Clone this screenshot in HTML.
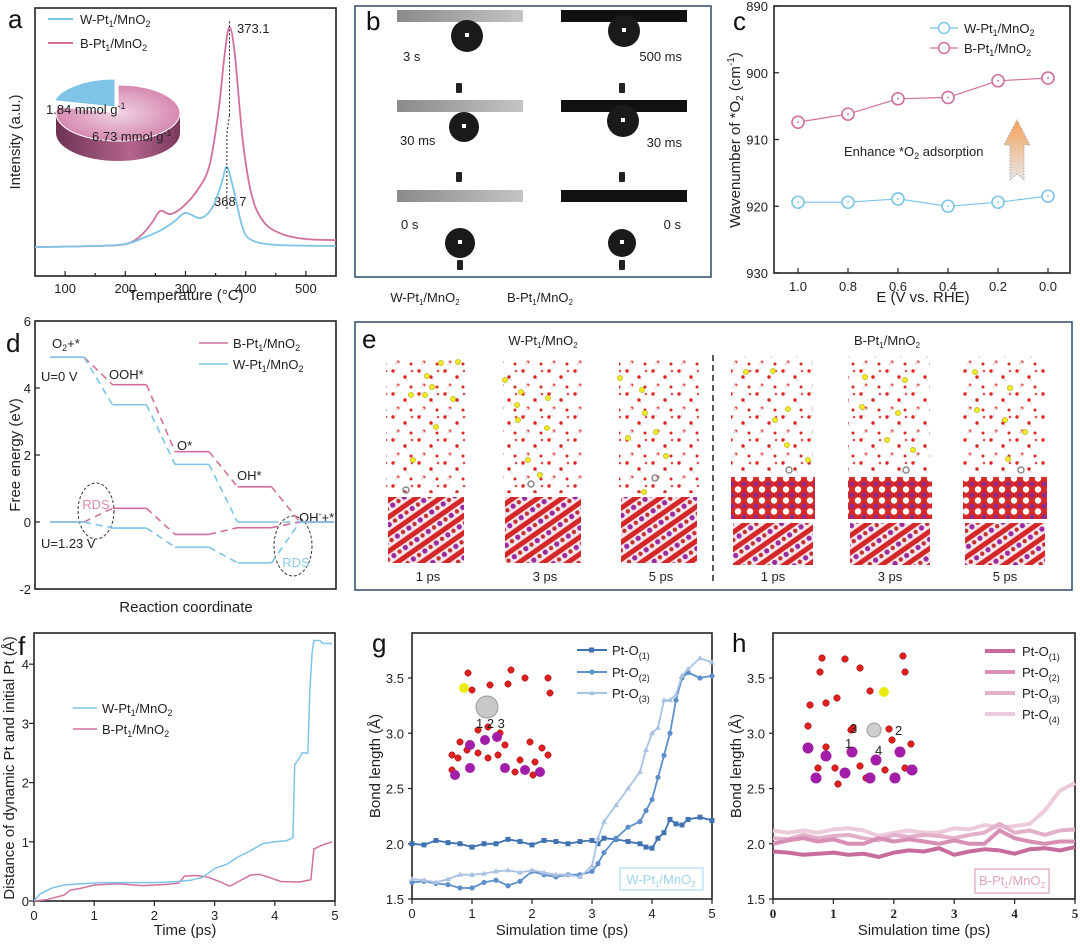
<!DOCTYPE html>
<html><head><meta charset="utf-8">
<style>
html,body{margin:0;padding:0;background:#fff;}
svg{display:block;font-family:"Liberation Sans",Arial,sans-serif;}
.tk{font-size:13px;fill:#222;}
.ti{font-size:15px;fill:#222;}
.lg{font-size:13px;fill:#222;}
.pl{font-size:26px;fill:#111;}
</style></head>
<body>
<svg id="fig" width="1080" height="945" viewBox="0 0 1080 945">
<defs>
 <linearGradient id="pieSide" x1="0" x2="1" y1="0" y2="0"><stop offset="0" stop-color="#6e3353"/><stop offset="0.6" stop-color="#b4648f"/><stop offset="1" stop-color="#7a3a5c"/></linearGradient>
 <radialGradient id="pieTop" cx="0.5" cy="0.5" r="0.6"><stop offset="0" stop-color="#f1d3e3"/><stop offset="1" stop-color="#d07aa6"/></radialGradient>
 <linearGradient id="arrowG" x1="0" x2="0" y1="0" y2="1"><stop offset="0" stop-color="#f5a25c"/><stop offset="1" stop-color="#e6e6e6"/></linearGradient>
 <linearGradient id="barW" x1="0" x2="1"><stop offset="0" stop-color="#8a8a8a"/><stop offset="1" stop-color="#c4c4c4"/></linearGradient>
 <pattern id="water" width="26" height="23" patternUnits="userSpaceOnUse">
  <line x1="2" y1="3" x2="7" y2="1" stroke="#ddd" stroke-width="1.2"/>
  <circle cx="3" cy="3" r="1.7" fill="#e0261e"/>
  <line x1="15" y1="9" x2="18" y2="13" stroke="#ddd" stroke-width="1.2"/>
  <circle cx="15" cy="9" r="1.7" fill="#d8221a"/>
  <circle cx="8" cy="17" r="1.5" fill="#e8443a"/>
  <line x1="8" y1="17" x2="5" y2="20" stroke="#ddd" stroke-width="1.2"/>
  <circle cx="22" cy="3" r="1.3" fill="#e05050"/>
  <circle cx="21" cy="19" r="1.5" fill="#d42a20"/>
 </pattern>
 <pattern id="slabW" width="14" height="14" patternUnits="userSpaceOnUse" patternTransform="rotate(-35)">
  <rect width="14" height="14" fill="#f4e6ea"/>
  <rect x="0" y="0" width="14" height="5" fill="#d42828"/>
  <circle cx="4" cy="9" r="2.6" fill="#9a2a9e"/>
  <circle cx="11" cy="9" r="2.2" fill="#c03030"/>
 </pattern>
 <pattern id="slabB" width="12" height="11" patternUnits="userSpaceOnUse">
  <rect width="12" height="11" fill="#d42a2a"/>
  <circle cx="6" cy="5.5" r="3.2" fill="#fff"/>
  <circle cx="0" cy="0" r="2.4" fill="#8e2a98"/>
  <circle cx="12" cy="0" r="2.4" fill="#8e2a98"/>
  <circle cx="0" cy="11" r="2.4" fill="#8e2a98"/>
  <circle cx="12" cy="11" r="2.4" fill="#8e2a98"/>
 </pattern>
</defs>

<text class="pl" x="8" y="28">a</text>
<text class="pl" x="366" y="30">b</text>
<text class="pl" x="733" y="30" font-size="24">c</text>
<text class="pl" x="6" y="352">d</text>
<text class="pl" x="362" y="348">e</text>
<text class="pl" x="18" y="655">f</text>
<text class="pl" x="372" y="652">g</text>
<text class="pl" x="732" y="652">h</text>

<g id="pa">
 <text class="ti" transform="translate(20,142) rotate(-90)" text-anchor="middle">Intensity (a.u.)</text>
 <text class="ti" x="186" y="300" text-anchor="middle">Temperature (°C)</text>
 <line x1="48" y1="19" x2="73" y2="19" stroke="#7cc4e8" stroke-width="2"/>
 <text class="lg" x="80" y="24">W-Pt<tspan font-size="9" dy="3">1</tspan><tspan dy="-3">/MnO</tspan><tspan font-size="9" dy="3">2</tspan></text>
 <line x1="48" y1="43" x2="73" y2="43" stroke="#d1709f" stroke-width="2"/>
 <text class="lg" x="80" y="48">B-Pt<tspan font-size="9" dy="3">1</tspan><tspan dy="-3">/MnO</tspan><tspan font-size="9" dy="3">2</tspan></text>
 <text class="lg" x="237" y="33">373.1</text>
 <text class="lg" x="214" y="206">368.7</text>
</g>

<g id="pb">
 <rect x="355" y="6" width="356" height="271" fill="none" stroke="#2d4a6a" stroke-width="1.5"/>
 <text class="lg" x="403" y="61">3 s</text>
 <text class="lg" x="682" y="61" text-anchor="end">500 ms</text>
 <text class="lg" x="400" y="145">30 ms</text>
 <text class="lg" x="682" y="147" text-anchor="end">30 ms</text>
 <text class="lg" x="401" y="229">0 s</text>
 <text class="lg" x="681" y="229" text-anchor="end">0 s</text>
 <text class="lg" x="425" y="302" text-anchor="middle" font-size="12">W-Pt<tspan font-size="8" dy="3">1</tspan><tspan dy="-3">/MnO</tspan><tspan font-size="8" dy="3">2</tspan></text>
 <text class="lg" x="540" y="302" text-anchor="middle" font-size="12">B-Pt<tspan font-size="8" dy="3">1</tspan><tspan dy="-3">/MnO</tspan><tspan font-size="8" dy="3">2</tspan></text>
</g>

<g id="pc">
 <text class="ti" transform="translate(740,140) rotate(-90)" text-anchor="middle">Wavenumber of *O<tspan font-size="10" dy="3">2</tspan><tspan dy="-3"> (cm</tspan><tspan font-size="10" dy="-6">-1</tspan><tspan dy="6">)</tspan></text>
 <text class="ti" x="923" y="302" text-anchor="middle">E (V vs. RHE)</text>
 <text class="lg" x="844" y="156">Enhance *O<tspan font-size="9" dy="3">2</tspan><tspan dy="-3"> adsorption</tspan></text>
 <path d="M1010,180 L1010,145 L1004,145 L1017,120 L1030,145 L1024,145 L1024,180 L1017,174 Z" fill="url(#arrowG)" stroke="#999" stroke-dasharray="1.5 1.5" stroke-width="0.8"/>
 <line x1="930" y1="28" x2="958" y2="28" stroke="#7cc4e8" stroke-width="1.2"/>
 <circle cx="944" cy="28" r="5.5" fill="#fff" stroke="#7cc4e8" stroke-width="1.5"/>
 <text class="lg" x="964" y="33">W-Pt<tspan font-size="9" dy="3">1</tspan><tspan dy="-3">/MnO</tspan><tspan font-size="9" dy="3">2</tspan></text>
 <line x1="930" y1="48" x2="958" y2="48" stroke="#d1709f" stroke-width="1.2"/>
 <circle cx="944" cy="48" r="5.5" fill="#fff" stroke="#d1709f" stroke-width="1.5"/>
 <text class="lg" x="964" y="53">B-Pt<tspan font-size="9" dy="3">1</tspan><tspan dy="-3">/MnO</tspan><tspan font-size="9" dy="3">2</tspan></text>
</g>

<g id="pd">
 <text class="ti" transform="translate(20,455) rotate(-90)" text-anchor="middle">Free energy (eV)</text>
 <text class="ti" x="186" y="612" text-anchor="middle">Reaction coordinate</text>
 <text class="lg" x="52" y="348">O<tspan font-size="9" dy="3">2</tspan><tspan dy="-3">+*</tspan></text>
 <text class="lg" x="41" y="381">U=0 V</text>
 <text class="lg" x="109" y="379">OOH*</text>
 <text class="lg" x="177" y="450">O*</text>
 <text class="lg" x="237" y="480">OH*</text>
 <text class="lg" x="299" y="522">OH<tspan font-size="9" dy="-5">-</tspan><tspan dy="5">+*</tspan></text>
 <text class="lg" x="41" y="548">U=1.23 V</text>
 <ellipse cx="96" cy="511" rx="18" ry="28" fill="none" stroke="#333" stroke-dasharray="3 2"/>
 <text class="lg" x="96" y="509" text-anchor="middle" style="fill:#e08ab4">RDS</text>
 <ellipse cx="293" cy="546" rx="19" ry="30" fill="none" stroke="#333" stroke-dasharray="3 2"/>
 <text class="lg" x="296" y="567" text-anchor="middle" style="fill:#8cc8ea">RDS</text>
 <line x1="199" y1="343" x2="228" y2="343" stroke="#d1709f" stroke-width="1.5"/>
 <text class="lg" x="233" y="348">B-Pt<tspan font-size="9" dy="3">1</tspan><tspan dy="-3">/MnO</tspan><tspan font-size="9" dy="3">2</tspan></text>
 <line x1="199" y1="364" x2="228" y2="364" stroke="#7cc4e8" stroke-width="1.5"/>
 <text class="lg" x="233" y="369">W-Pt<tspan font-size="9" dy="3">1</tspan><tspan dy="-3">/MnO</tspan><tspan font-size="9" dy="3">2</tspan></text>
</g>

<g id="pe">
 <rect x="355" y="322" width="717" height="268" fill="none" stroke="#2d4a6a" stroke-width="1.5"/>
 <text class="lg" x="543" y="345" text-anchor="middle" font-size="12">W-Pt<tspan font-size="8" dy="3">1</tspan><tspan dy="-3">/MnO</tspan><tspan font-size="8" dy="3">2</tspan></text>
 <text class="lg" x="887" y="345" text-anchor="middle" font-size="12">B-Pt<tspan font-size="8" dy="3">1</tspan><tspan dy="-3">/MnO</tspan><tspan font-size="8" dy="3">2</tspan></text>
 <line x1="713" y1="355" x2="713" y2="585" stroke="#222" stroke-width="1.5" stroke-dasharray="6 4"/>
</g>

<g id="pf">
 <text class="ti" transform="translate(14,768) rotate(-90)" text-anchor="middle" font-size="14">Distance of dynamic Pt and initial  Pt (Å)</text>
 <text class="ti" x="185" y="935" text-anchor="middle">Time (ps)</text>
 <line x1="73" y1="708" x2="97" y2="708" stroke="#7cc4e8" stroke-width="1.5"/>
 <text class="lg" x="102" y="713">W-Pt<tspan font-size="9" dy="3">1</tspan><tspan dy="-3">/MnO</tspan><tspan font-size="9" dy="3">2</tspan></text>
 <line x1="73" y1="729" x2="97" y2="729" stroke="#d1709f" stroke-width="1.5"/>
 <text class="lg" x="102" y="734">B-Pt<tspan font-size="9" dy="3">1</tspan><tspan dy="-3">/MnO</tspan><tspan font-size="9" dy="3">2</tspan></text>
</g>

<g id="pg">
 <text class="ti" transform="translate(380,766) rotate(-90)" text-anchor="middle">Bond length (Å)</text>
 <text class="ti" x="562" y="935" text-anchor="middle">Simulation time (ps)</text>
 <rect x="620" y="868" width="83" height="22" fill="#fff" stroke="#bfe3f5" stroke-width="1.5"/>
 <text class="lg" x="661" y="884" text-anchor="middle" font-size="12" style="fill:#9fd4f0">W-Pt<tspan font-size="8" dy="3">1</tspan><tspan dy="-3">/MnO</tspan><tspan font-size="8" dy="3">2</tspan></text>
</g>

<g id="ph">
 <text class="ti" transform="translate(741,766) rotate(-90)" text-anchor="middle">Bond length (Å)</text>
 <text class="ti" x="924" y="935" text-anchor="middle">Simulation time (ps)</text>
 <rect x="975" y="869" width="74" height="24" fill="#fff" stroke="#e5b3cd" stroke-width="1.5"/>
 <text class="lg" x="1012" y="885" text-anchor="middle" font-size="12" style="fill:#e2a4c4">B-Pt<tspan font-size="8" dy="3">1</tspan><tspan dy="-3">/MnO</tspan><tspan font-size="8" dy="3">2</tspan></text>
</g>
</svg>

<script>
// panel a (TPD)
const aTemps = [50,150,200,230,260,280,300,325,345,360,368.7,380,395,410,450,550];
const aW = [10.8,11.2,11.9,14.2,17.2,20.1,23.5,21.6,25.7,34.7,40.7,32.1,17.9,13.4,11.6,11.2];
const bTemps = [50,150,200,225,245,258,275,295,320,340,355,365,373.1,382,395,410,430,460,500,550];
const aB = [10.8,11.2,11.9,14.9,20.1,24.3,23.1,25.7,32.1,41.4,61.9,82.5,92.9,82.5,50.7,30.2,20.1,15.7,13.8,13.4];
const aXTicks = [100,200,300,400,500];
const pieVals = [1.84,6.73];
// panel c
const cE = [1.0,0.8,0.6,0.4,0.2,0.0];
const cW = [919.4,919.4,918.9,920.0,919.4,918.5];
const cB = [907.4,906.2,903.9,903.7,901.2,900.8];
const cYTicks = [890,900,910,920,930];
const cXTicks = [1.0,0.8,0.6,0.4,0.2,0.0];
// panel d
const dB0 = [4.92,4.10,2.10,1.05,0];
const dW0 = [4.92,3.50,1.72,0.0,0];
const dB1 = [0,0.41,-0.37,-0.17,0];
const dW1 = [0,-0.18,-0.75,-1.22,0];
const dYTicks = [6,4,2,0,-2];
// panel f
const fTW = [0,0.1,0.3,0.5,0.8,1.1,1.5,2,2.4,2.6,2.8,3.0,3.2,3.4,3.6,3.8,4.0,4.2,4.3,4.33,4.4,4.45,4.55,4.58,4.62,4.65,4.75,4.8,4.95];
const fW  = [0,0.12,0.22,0.27,0.29,0.31,0.31,0.31,0.33,0.35,0.40,0.55,0.62,0.75,0.85,0.97,1.0,1.02,1.07,2.3,2.4,2.5,2.5,3.5,4.2,4.4,4.4,4.35,4.35];
const fTB = [0,0.2,0.5,0.6,0.8,1.0,1.4,1.8,2.2,2.4,2.5,2.7,2.9,3.1,3.25,3.4,3.6,3.75,3.9,4.1,4.4,4.6,4.65,4.8,4.95];
const fB  = [0,0.02,0.1,0.18,0.22,0.27,0.29,0.26,0.28,0.30,0.42,0.43,0.40,0.32,0.25,0.33,0.44,0.45,0.40,0.33,0.32,0.36,0.88,0.95,1.0];
const fXTicks = [0,1,2,3,4,5];
const fYTicks = [0,1,2,3,4];
// panel g
const gT = [0,0.2,0.4,0.6,0.8,1.0,1.2,1.4,1.6,1.8,2.0,2.2,2.4,2.6,2.8,3.0,3.1,3.2,3.4,3.6,3.8,3.9,4.0,4.1,4.2,4.3,4.4,4.5,4.6,4.8,5.0];
const gO1 = [2.0,1.99,2.03,2.01,2.0,1.97,2.0,2.0,2.04,2.02,1.99,2.03,2.02,2.0,2.02,2.03,2.0,2.05,2.04,2.02,2.0,1.97,1.96,2.05,2.1,2.22,2.18,2.17,2.22,2.24,2.21];
const gO2 = [1.65,1.66,1.64,1.63,1.60,1.60,1.65,1.67,1.62,1.66,1.75,1.72,1.70,1.72,1.72,1.75,1.82,1.92,2.05,2.15,2.2,2.3,2.4,2.6,2.8,3.0,3.3,3.5,3.55,3.5,3.52];
const gO3 = [1.68,1.67,1.65,1.68,1.72,1.72,1.73,1.75,1.76,1.74,1.76,1.74,1.72,1.72,1.70,1.80,2.05,2.2,2.35,2.5,2.65,2.85,3.0,3.05,3.3,3.3,3.35,3.52,3.58,3.68,3.64];
const gYTicks = [1.5,2.0,2.5,3.0,3.5];
// panel h
const hT = [0,0.25,0.5,0.75,1.0,1.25,1.5,1.75,2.0,2.25,2.5,2.75,3.0,3.25,3.5,3.75,4.0,4.25,4.5,4.75,5.0];
const hO1 = [1.93,1.92,1.9,1.91,1.92,1.9,1.91,1.88,1.92,1.94,1.93,1.96,1.9,1.93,1.95,1.94,1.91,1.95,1.96,1.94,1.97];
const hO2 = [2.0,2.03,2.05,2.02,2.04,2.0,2.0,2.05,2.02,2.04,2.02,2.0,2.03,2.0,2.0,2.12,2.05,2.02,2.0,2.02,2.02];
const hO3 = [2.05,2.04,2.08,2.05,2.07,2.08,2.05,2.03,2.08,2.06,2.08,2.07,2.05,2.08,2.1,2.18,2.1,2.12,2.08,2.12,2.13];
const hO4 = [2.12,2.1,2.12,2.1,2.13,2.14,2.12,2.07,2.1,2.12,2.1,2.1,2.14,2.13,2.17,2.15,2.16,2.18,2.3,2.48,2.55];

const NS = "http://www.w3.org/2000/svg";
const svg = document.getElementById('fig');
function mk(tag, attrs, parent){
  const e = document.createElementNS(NS, tag);
  for (const k in attrs) e.setAttribute(k, attrs[k]);
  (parent || svg).appendChild(e);
  return e;
}
function poly(xs, ys, fx, fy){ return xs.map((x,i)=>fx(x).toFixed(1)+','+fy(ys[i]).toFixed(1)).join(' '); }
function smooth(xs, ys, fx, fy){
  const p = xs.map((x,i)=>[fx(x), fy(ys[i])]);
  let d = `M${p[0][0].toFixed(1)},${p[0][1].toFixed(1)}`;
  for(let i=0;i<p.length-1;i++){
    const p0=p[Math.max(0,i-1)], p1=p[i], p2=p[i+1], p3=p[Math.min(p.length-1,i+2)];
    const c1=[p1[0]+(p2[0]-p0[0])/6, p1[1]+(p2[1]-p0[1])/6];
    const c2=[p2[0]-(p3[0]-p1[0])/6, p2[1]-(p3[1]-p1[1])/6];
    d += ` C${c1[0].toFixed(1)},${c1[1].toFixed(1)} ${c2[0].toFixed(1)},${c2[1].toFixed(1)} ${p2[0].toFixed(1)},${p2[1].toFixed(1)}`;
  }
  return d;
}
function frame(x,y,w,h,name){
  const r = mk('rect',{x:x,y:y,width:w,height:h,fill:'none',stroke:'#222','stroke-width':1.6});
  
  
}
function tickText(x,y,txt,anchor,name){
  const t = mk('text',{x:x,y:y,'class':'tk','text-anchor':anchor});
  t.textContent = txt;
  
  
}
function tickLine(x1,y1,x2,y2){
  const l = mk('line',{x1:x1,y1:y1,x2:x2,y2:y2,stroke:'#222','stroke-width':1.2});
  
  
}

// PANEL A
const xa = T => 35 + (T-50)*301/500;
const ya = I => 276 - I*2.68;
frame(35,8,301,268,'plot-frame-a');
aXTicks.forEach(v=>{ tickLine(xa(v),276,xa(v),271); tickText(xa(v),293,String(v),'middle','x-tick-label-a'); });
[150,250,350,450].forEach(v=>tickLine(xa(v),276,xa(v),273));
let la = mk('path',{d:smooth(bTemps,aB,xa,ya),fill:'none',stroke:'#d1709f','stroke-width':1.8});


la = mk('path',{d:smooth(aTemps,aW,xa,ya),fill:'none',stroke:'#7cc4e8','stroke-width':1.8});


let dl = mk('line',{x1:xa(373.1),y1:ya(95),x2:xa(373.1),y2:ya(60),stroke:'#222','stroke-dasharray':'2 2'});


dl = mk('polyline',{points:`${xa(373.1)},${ya(60)} ${xa(368.7)},${ya(53)} ${xa(368.7)},${ya(25)}`,fill:'none',stroke:'#222','stroke-dasharray':'2 2'});


(function(){
  const cx=118, cy=113, rx=62, ry=28, d=20;
  const tot = pieVals[0]+pieVals[1];
  const fracB = pieVals[0]/tot;
  const a0 = -Math.PI/2, a1 = a0 - fracB*2*Math.PI;
  const P = (a,dx,dy)=>[(cx+dx+rx*Math.cos(a)).toFixed(1),(cy+dy+ry*Math.sin(a)).toFixed(1)];
  const side = mk('path',{d:`M${cx-rx},${cy} L${cx-rx},${cy+d} A${rx},${ry} 0 0 0 ${cx+rx},${cy+d} L${cx+rx},${cy} A${rx},${ry} 0 0 1 ${cx-rx},${cy} Z`,fill:'url(#pieSide)'});
  
  
  const p0=P(a0,0,0), p1=P(a1,0,0);
  const large = (1-fracB)>0.5?1:0;
  const top = mk('path',{d:`M${cx},${cy} L${p0[0]},${p0[1]} A${rx},${ry} 0 ${large} 1 ${p1[0]},${p1[1]} Z`,fill:'url(#pieTop)',stroke:'#fff','stroke-width':1});
  
  
  const ox=-3, oy=-6;
  const q0=P(a0,ox,oy), q1=P(a1,ox,oy);
  const bl = mk('path',{d:`M${cx+ox},${cy+oy} L${q0[0]},${q0[1]} A${rx},${ry} 0 0 0 ${q1[0]},${q1[1]} Z`,fill:'#7fc3e6',stroke:'#fff','stroke-width':1});
  
  
  const t1 = mk('text',{x:46,y:114,'class':'lg'}); t1.innerHTML='1.84 mmol g<tspan font-size="9" dy="-5">-1</tspan>';
  
  
  const t2 = mk('text',{x:92,y:141,'class':'lg'}); t2.innerHTML='6.73 mmol g<tspan font-size="9" dy="-5">-1</tspan>';
  
  
})();

// PANEL B
(function(){
  const rows=[10,100,190];
  rows.forEach((y,i)=>{
    const bw = mk('rect',{x:397,y:y,width:126,height:12,fill:'url(#barW)'});
    
    
    const bb = mk('rect',{x:561,y:y,width:126,height:12,fill:'#111'});
    
    
  });
  const drops=[[467,36,16],[464,127,15],[460,243,15],[624,31,16],[623,121,16],[622,243,14]];
  drops.forEach(dp=>{
    const c = mk('circle',{cx:dp[0],cy:dp[1],r:dp[2],fill:'#1a1a1a'});
    
    
    const h = mk('rect',{x:dp[0]-2,y:dp[1]-3,width:4,height:4,fill:'#fff'});
    
    
  });
  [[456,83],[619,83],[456,172],[619,172],[457,260],[619,260]].forEach(n=>{
    const r = mk('rect',{x:n[0],y:n[1],width:6,height:10,rx:1,fill:'#222'});
    
    
  });
})();

// PANEL C
const xc = E => 798 + (1-E)*250;
const yc = w => 6 + (w-890)*267/40;
frame(774,6,296,267,'plot-frame-c');
cYTicks.forEach(v=>{ tickLine(774,yc(v),779,yc(v)); tickText(768,yc(v)+5,String(v),'end','y-tick-label-c'); });
cXTicks.forEach(v=>{ tickLine(xc(v),273,xc(v),268); tickText(xc(v),291,v.toFixed(1),'middle','x-tick-label-c'); });
[[cW,'#7cc4e8','w'],[cB,'#d1709f','b']].forEach(s=>{
  const l = mk('polyline',{points:poly(cE,s[0],xc,yc),fill:'none',stroke:s[1],'stroke-width':1.2});
  
  
  cE.forEach((e,i)=>{
    const c = mk('circle',{cx:xc(e),cy:yc(s[0][i]),r:6,fill:'#fff',stroke:s[1],'stroke-width':1.6});
    
    
    const c2 = mk('circle',{cx:xc(e),cy:yc(s[0][i]),r:0.9,fill:s[1]});
    
    
  });
});

// PANEL D
const yd = e => 321 + (6-e)*33.5;
const xd0 = i => 50 + i*62.5;
const xd1 = i => 50 + i*62.5 + 34;
frame(35,321,301,268,'plot-frame-d');
dYTicks.forEach(v=>{ tickLine(35,yd(v),40,yd(v)); tickText(31,yd(v)+5,String(v),'end','y-tick-label-d'); });
[[dB0,'#d1709f','b-u0'],[dW0,'#7cc4e8','w-u0'],[dB1,'#d1709f','b-u123'],[dW1,'#7cc4e8','w-u123']].forEach(s=>{
  const v=s[0];
  v.forEach((e,i)=>{
    const l = mk('line',{x1:xd0(i),y1:yd(e),x2:xd1(i),y2:yd(e),stroke:s[1],'stroke-width':1.6});
    
    
    if(i<v.length-1){
      const c = mk('line',{x1:xd1(i),y1:yd(e),x2:xd0(i+1),y2:yd(v[i+1]),stroke:s[1],'stroke-width':1.6,'stroke-dasharray':'7 5'});
      
      
    }
  });
});

// PANEL E
(function(){
  const colsW=[386,503,619], colsB=[731,848,963];
  colsW.forEach((x,i)=>{
    const w = mk('rect',{x:x,y:358,width:80,height:135,fill:'url(#water)'});
    
    
    const s = mk('rect',{x:x+2,y:497,width:76,height:66,fill:'url(#slabW)'});
    
    
    const pt = mk('circle',{cx:x+20+i*8,cy:490-i*6,r:3,fill:'none',stroke:'#888','stroke-width':1.5});
    
    
    const lb = mk('text',{x:x+42,y:581,'class':'lg','text-anchor':'middle'}); lb.textContent=(2*i+1)+' ps';
    
    
  });
  colsB.forEach((x,i)=>{
    const w = mk('rect',{x:x,y:356,width:82,height:118,fill:'url(#water)'});
    
    
    const s = mk('rect',{x:x,y:477,width:84,height:42,fill:'url(#slabB)'});
    
    
    const s2 = mk('rect',{x:x+2,y:523,width:80,height:42,fill:'url(#slabW)'});
    
    
    const pt = mk('circle',{cx:x+58,cy:470,r:3,fill:'none',stroke:'#888','stroke-width':1.5});
    
    
    const lb = mk('text',{x:x+42,y:581,'class':'lg','text-anchor':'middle'}); lb.textContent=(2*i+1)+' ps';
    
    
  });
  const yel=[[441,363],[427,376],[432,387],[425,395],[453,399],[411,395],[436,427],[413,460],[458,362],[505,380],[521,392],[517,405],[518,420],[548,398],[547,428],[528,460],[540,475],[620,378],[642,390],[645,413],[628,438],[656,432],[666,456],[644,492],[746,372],[773,371],[788,409],[775,420],[787,445],[808,460],[865,377],[905,380],[862,407],[898,413],[887,440],[913,450],[975,372],[1010,388],[977,410],[1005,420],[1025,432],[1008,459]];
  yel.forEach(p=>{
    const c = mk('circle',{cx:p[0],cy:p[1],r:2.6,fill:'#f0ea2a',stroke:'#b5a800','stroke-width':0.6});
    
    
  });
})();

// PANEL F
const xf = t => 34 + t*60.2;
const yf = d => 901 - d*59.2;
frame(34,633,301,268,'plot-frame-f');
fXTicks.forEach(v=>{ tickLine(xf(v),901,xf(v),906); tickText(xf(v),920,String(v),'middle','x-tick-label-f'); });
fYTicks.forEach(v=>{ tickLine(34,yf(v),29,yf(v)); tickText(29,yf(v)+5,String(v),'end','y-tick-label-f'); });
let lf = mk('polyline',{points:poly(fTB,fB,xf,yf),fill:'none',stroke:'#d1709f','stroke-width':1.5});


lf = mk('polyline',{points:poly(fTW,fW,xf,yf),fill:'none',stroke:'#7cc4e8','stroke-width':1.5});



// PANEL G
const yb = b => 899 - (b-1.5)*110.5;
const xg = t => 412 + t*60;
frame(412,633,300,266,'plot-frame-g');
gYTicks.forEach(v=>{ tickLine(412,yb(v),408,yb(v)); tickText(404,yb(v)+5,v.toFixed(1),'end','y-tick-label-g'); });
fXTicks.forEach(v=>{ tickLine(xg(v),899,xg(v),904); tickText(xg(v),918,String(v),'middle','x-tick-label-g'); });
(function(){
  const bg = mk('rect',{x:442,y:665,width:113,height:113,fill:'#fff'});
  
  
  const purple=[[470,745],[485,740],[497,737],[455,775],[470,768],[505,768],[525,770],[540,772]];
  const red=[[458,758],[467,750],[478,753],[488,758],[478,730],[488,727],[500,733],[460,742],[452,755],[498,755],[520,760],[535,762],[548,755],[542,748],[530,742],[515,772],[505,745],[533,775],[452,770],[468,673],[490,685],[508,684],[525,678],[550,693],[472,690],[511,670],[548,678]];
  red.forEach(p=>{ const c=mk('circle',{cx:p[0],cy:p[1],r:3.2,fill:'#e01f1f',stroke:'#800','stroke-width':0.5});
    
     });
  purple.forEach(p=>{ const c=mk('circle',{cx:p[0],cy:p[1],r:5,fill:'#a21da8'});
    
     });
  const pt = mk('circle',{cx:487,cy:707,r:11,fill:'#c8c8c8',stroke:'#999'});
  
  
  const y = mk('circle',{cx:464,cy:688,r:5,fill:'#eaea10'});
  
  
  const lbl = mk('text',{x:476,y:728,'class':'lg'}); lbl.textContent='1 2 3';
  
  
})();
[[gO1,'#3f72b2','o1','rect'],[gO2,'#5e8fcb','o2','circle'],[gO3,'#a9c2e3','o3','tri']].forEach(s=>{
  const l = mk('polyline',{points:poly(gT,s[0],xg,yb),fill:'none',stroke:s[1],'stroke-width':1.8});
  
  
  gT.forEach((t,i)=>{
    const x=xg(t), y=yb(s[0][i]);
    let m;
    if(s[3]==='rect') m = mk('rect',{x:x-2.5,y:y-2.5,width:5,height:5,fill:s[1]});
    else if(s[3]==='circle') m = mk('circle',{cx:x,cy:y,r:2.6,fill:s[1]});
    else m = mk('path',{d:`M${x},${y-3} L${x+3},${y+2} L${x-3},${y+2} Z`,fill:s[1]});
    
    
  });
});
[['(1)','#3f72b2',650,'rect'],['(2)','#5e8fcb',672,'circle'],['(3)','#a9c2e3',693,'tri']].forEach(L=>{
  const l = mk('line',{x1:577,y1:L[2],x2:607,y2:L[2],stroke:L[1],'stroke-width':2});
  
  
  let m;
  if(L[3]==='rect') m = mk('rect',{x:589,y:L[2]-2.5,width:5,height:5,fill:L[1]});
  else if(L[3]==='circle') m = mk('circle',{cx:592,cy:L[2],r:2.6,fill:L[1]});
  else m = mk('path',{d:`M592,${L[2]-3} L595,${L[2]+2} L589,${L[2]+2} Z`,fill:L[1]});
  
  
  const t = mk('text',{x:612,y:L[2]+5,'class':'lg'}); t.innerHTML='Pt-O<tspan font-size="9" dy="4">'+L[0]+'</tspan>';
  
  
});

// PANEL H
const xh = t => 773 + t*60.4;
frame(773,633,302,266,'plot-frame-h');
gYTicks.forEach(v=>{ tickLine(773,yb(v),769,yb(v)); tickText(765,yb(v)+5,v.toFixed(1),'end','y-tick-label-h'); });
fXTicks.forEach(v=>{ tickLine(xh(v),899,xh(v),904); const tt=mk('text',{x:xh(v),y:918,'class':'tk','text-anchor':'middle','font-family':'Liberation Serif','font-weight':'bold'}); tt.textContent=String(v);
  
   });
(function(){
  const bg = mk('rect',{x:803,y:653,width:119,height:129,fill:'#fff'});
  
  
  const purple=[[808,748],[826,756],[852,752],[876,760],[900,752],[816,778],[845,773],[870,778],[895,778],[912,770]];
  const red=[[808,726],[826,747],[851,730],[892,740],[911,744],[818,768],[835,768],[860,766],[885,770],[905,768],[838,784],[866,778],[822,658],[845,659],[860,668],[903,656],[905,672],[820,672],[810,705],[826,703],[837,698],[870,691],[853,728],[889,729]];
  red.forEach(p=>{ const c=mk('circle',{cx:p[0],cy:p[1],r:3.3,fill:'#e01f1f',stroke:'#800','stroke-width':0.5});
    
     });
  purple.forEach(p=>{ const c=mk('circle',{cx:p[0],cy:p[1],r:5.5,fill:'#a21da8'});
    
     });
  const pt = mk('circle',{cx:874,cy:730,r:7,fill:'#cfcfcf',stroke:'#999'});
  
  
  const y = mk('circle',{cx:884,cy:692,r:5,fill:'#eaea10'});
  
  
  [['3',850,733],['2',895,735],['1',845,748],['4',875,755]].forEach(q=>{
    const t=mk('text',{x:q[1],y:q[2],'class':'lg'}); t.textContent=q[0];
    
    
  });
})();
[[hO4,'#eecbdc','o4'],[hO3,'#e3b0ca','o3'],[hO2,'#d88fb6','o2'],[hO1,'#c76c9c','o1']].forEach(s=>{
  const l = mk('polyline',{points:poly(hT,s[0],xh,yb),fill:'none',stroke:s[1],'stroke-width':4,'stroke-linejoin':'round'});
  
  
});
[['(1)','#c76c9c',651],['(2)','#d88fb6',672],['(3)','#e3b0ca',693],['(4)','#eecbdc',714]].forEach(L=>{
  const l = mk('line',{x1:985,y1:L[2],x2:1015,y2:L[2],stroke:L[1],'stroke-width':4});
  
  
  const t = mk('text',{x:1022,y:L[2]+5,'class':'lg'}); t.innerHTML='Pt-O<tspan font-size="9" dy="4">'+L[0]+'</tspan>';
  
  
});
</script>
</body></html>
